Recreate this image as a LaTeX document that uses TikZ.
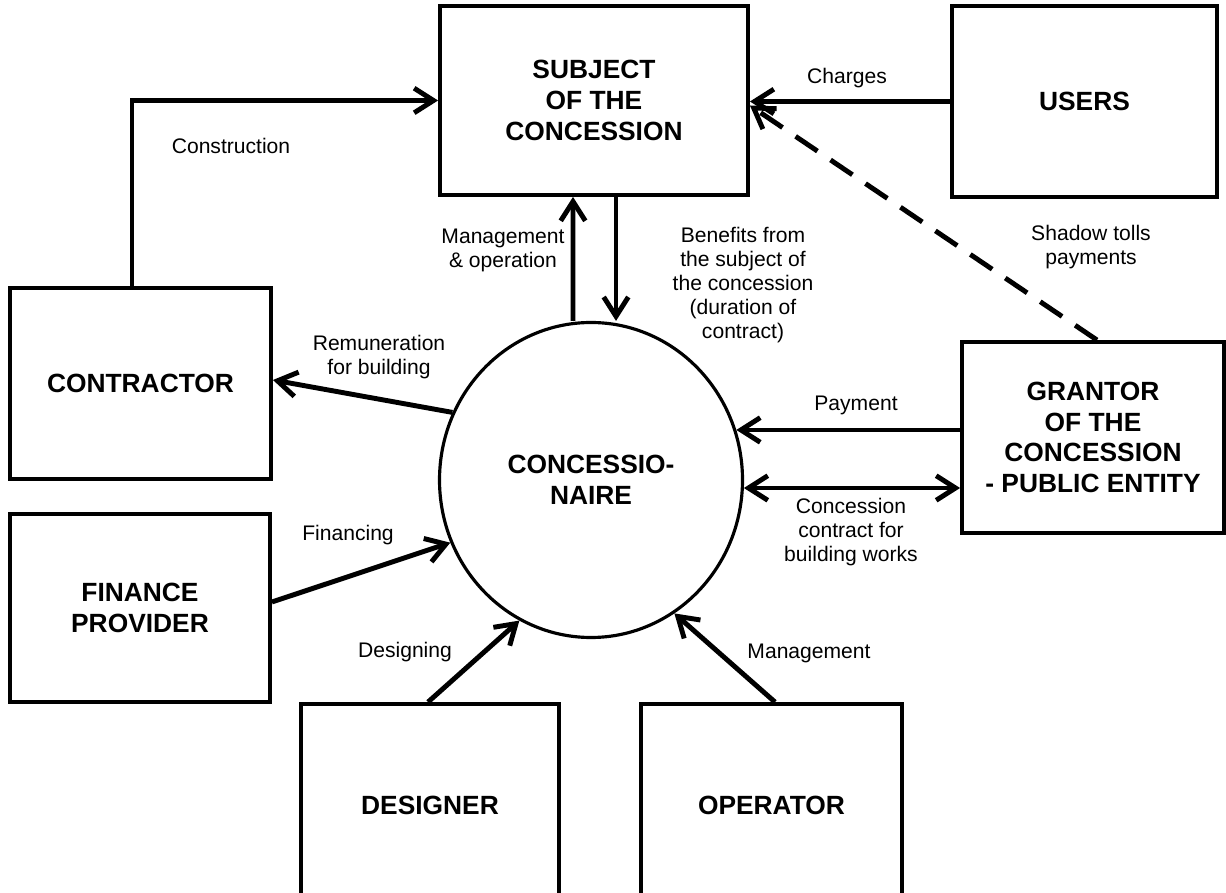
\documentclass[tikz,border=0pt]{standalone}
\usepackage{fontspec}
\setmainfont{Liberation Sans}
\usetikzlibrary{arrows.meta,shapes.geometric}

\begin{document}
\begin{tikzpicture}[
    >={Straight Barb[length=11pt, width=14pt]},
    box/.style={draw, line width=2.2pt, align=center, font=\fontsize{15}{17.5}\selectfont\bfseries},
    lbl/.style={align=center, font=\fontsize{12}{13.6}\selectfont},
    arr/.style={line width=2.8pt, ->},
]
    \useasboundingbox (0, 0) rectangle (24.52, 17.84);
    \clip (0, 0) rectangle (24.52, 17.84);

    \node[box, minimum width=6.16cm, minimum height=3.78cm] (subject) at (11.88, 15.83) {SUBJECT\\OF THE\\CONCESSION};
    \node[box, minimum width=5.3cm, minimum height=3.82cm] (users) at (21.69, 15.81) {USERS};
    \node[box, minimum width=5.22cm, minimum height=3.82cm] (contractor) at (2.81, 10.17) {CONTRACTOR};
    \node[box, minimum width=5.2cm, minimum height=3.76cm] (finance) at (2.80, 5.68) {FINANCE\\PROVIDER};
    \node[box, minimum width=5.24cm, minimum height=3.82cm] (grantor) at (21.86, 9.09) {GRANTOR\\OF THE\\CONCESSION\\- PUBLIC ENTITY};
    \node[box, minimum width=5.16cm, minimum height=4.04cm] (designer) at (8.6, 1.74) {DESIGNER};
    \node[box, minimum width=5.22cm, minimum height=4.04cm] (operator) at (15.43, 1.74) {OPERATOR};
    \node[box, ellipse, line width=1.8pt, minimum width=6.06cm, minimum height=6.3cm] (conc) at (11.82, 8.24) {CONCESSIO-\\NAIRE};

%   connectors
    \draw[arr] ([xshift=-0.17cm]contractor.north) |- (subject.west);
    \draw[arr] (users.west) -- (users.west -| subject.east);
    \draw[arr, dash pattern=on 15pt off 9pt] ([xshift=0.08cm]grantor.north) -- ([yshift=-0.1cm]subject.east);
    \draw[arr] ([xshift=-0.36cm]conc.north) -- ([xshift=-0.42cm]subject.south);
    \draw[arr] ([xshift=0.44cm]subject.south) -- ([xshift=0.5cm]conc.north);
    \draw[arr] (conc.154) -- ([yshift=0.07cm]contractor.east);
    \draw[arr] ([yshift=0.12cm]finance.east) -- (conc.204);
    \draw[arr] (conc.19 -| grantor.west) -- (conc.19);
    \draw[arr, <->] (conc.357) -- (conc.357 -| grantor.west);
    \draw[arr] ([xshift=-0.04cm]designer.north) -- (conc.243);
    \draw[arr] ([xshift=0.07cm]operator.north) -- (conc.302);

%   labels
    \node[lbl] (construction) at (4.62, 14.92) {Construction};
    \node[lbl] (charges) at (16.94, 16.28) {Charges};
    \node[lbl] (mgmtop) at (10.06, 12.84) {Management\\\& operation};
    \node[lbl] (benefits) at (14.86, 12.14) {Benefits from\\the subject of\\the concession\\(duration of\\contract)};
    \node[lbl] (shadow) at (21.82, 12.89) {Shadow tolls\\payments};
    \node[lbl] (remun) at (7.58, 10.7) {Remuneration\\for building};
    \node[lbl] (payment) at (17.12, 9.74) {Payment};
    \node[lbl] (contract) at (17.02, 7.2) {Concession\\contract for\\building works};
    \node[lbl] (financing) at (6.96, 7.14) {Financing};
    \node[lbl] (designing) at (8.1, 4.8) {Designing};
    \node[lbl] (management) at (16.18, 4.78) {Management};
\end{tikzpicture}
\end{document}
